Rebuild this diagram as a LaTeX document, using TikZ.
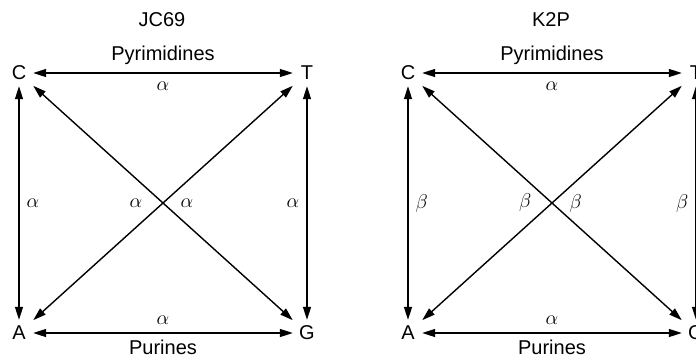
\documentclass[tikz,border=0pt]{standalone}
\usepackage{fix-cm}
\usepackage{fontspec}
\setmainfont{Liberation Sans}
\usepackage{tikz}
\usetikzlibrary{arrows.meta}

\begin{document}
\begin{tikzpicture}[x=1pt, y=-1pt,
    every node/.style={font=\fontsize{20}{24}\selectfont},
    base/.style={minimum width=28pt, minimum height=26pt, inner sep=0pt},
    rate/.style={inner sep=3pt},
    dbl/.style={>={Triangle[length=13pt,width=8pt]}, <->, line width=1.4pt}]
    \useasboundingbox (0,0) rectangle (696,356);
    \clip (0,0) rectangle (696,356);
    % JC69
    \node (jc) at (162,20) {JC69};
    \node[base] (cJC) at (19,73) {C};
    \node[base] (tJC) at (307,73) {T};
    \node[base] (aJC) at (19,333) {A};
    \node[base] (gJC) at (307,333) {G};
    \draw[dbl] (cJC) -- node[rate, above=5pt]{Pyrimidines} node[rate, below=5pt]{$\alpha$} (tJC);
    \draw[dbl] (aJC) -- node[rate, above=5pt]{$\alpha$} node[rate, below=3pt]{Purines} (gJC);
    \draw[dbl] (cJC) -- node[rate, right=4pt]{$\alpha$} (aJC);
    \draw[dbl] (tJC) -- node[rate, left=4pt]{$\alpha$} (gJC);
    \draw[dbl] (aJC) -- node[rate, left=17pt]{$\alpha$} (tJC);
    \draw[dbl] (cJC) -- node[rate, right=14pt]{$\alpha$} (gJC);
    % K2P
    \node (k2p) at (551,20) {K2P};
    \node[base] (cK) at (408,73) {C};
    \node[base] (tK) at (696,73) {T};
    \node[base] (aK) at (408,333) {A};
    \node[base] (gK) at (696,333) {G};
    \draw[dbl] (cK) -- node[rate, above=5pt]{Pyrimidines} node[rate, below=5pt]{$\alpha$} (tK);
    \draw[dbl] (aK) -- node[rate, above=5pt]{$\alpha$} node[rate, below=3pt]{Purines} (gK);
    \draw[dbl] (cK) -- node[rate, right=4pt]{$\beta$} (aK);
    \draw[dbl] (tK) -- node[rate, left=4pt]{$\beta$} (gK);
    \draw[dbl] (aK) -- node[rate, left=17pt]{$\beta$} (tK);
    \draw[dbl] (cK) -- node[rate, right=14pt]{$\beta$} (gK);
\end{tikzpicture}
\end{document}
